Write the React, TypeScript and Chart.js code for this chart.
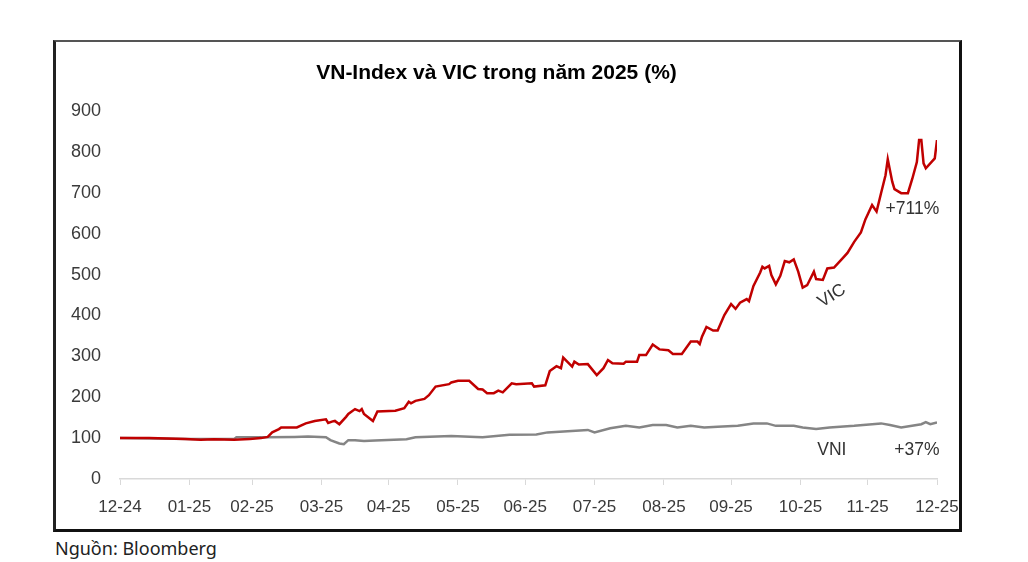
import React, { useEffect, useRef } from "react";
import { Chart, registerables } from "chart.js";

Chart.register(...registerables);

const chartTitle = "VN-Index và VIC trong năm 2025 (%)";
const sourceText = "Nguồn: Bloomberg";

const monthTickDays = [0, 31, 59, 90, 120, 151, 181, 212, 243, 273, 304, 334, 365];
const monthTickLabels = ["12-24", "01-25", "02-25", "03-25", "04-25", "05-25", "06-25", "07-25", "08-25", "09-25", "10-25", "11-25", "12-25"];

const yMin = 0;
const yMax = 900;
const yStep = 100;

const vicDays = [0, 13, 29, 36, 42, 51, 58, 63, 66, 68, 71, 72, 79, 83, 87, 92, 93, 95, 96, 98, 101, 102, 105, 107, 108, 109, 113, 115, 123, 127, 129, 130, 132, 136, 138, 141, 147, 148, 151, 156, 160, 162, 164, 167, 169, 171, 175, 177, 184, 185, 190, 192, 195, 197, 198, 202, 203, 205, 209, 213, 216, 218, 220, 225, 226, 231, 232, 235, 238, 241, 245, 247, 251, 255, 258, 259, 260, 262, 265, 267, 270, 273, 275, 277, 280, 281, 283, 286, 287, 288, 290, 291, 293, 295, 297, 299, 301, 303, 305, 307, 310, 311, 314, 316, 319, 323, 325, 328, 331, 333, 336, 338, 340, 342, 343, 345, 346, 349, 352, 354, 356, 357, 358, 359, 360, 364, 365];
const vicValues = [100, 100, 98, 96, 97, 96, 98, 100, 103, 114, 122, 126, 126, 136, 142, 146, 137, 141, 142, 134, 152, 159, 171, 166, 171, 159, 142, 165, 167, 173, 189, 185, 191, 196, 205, 226, 232, 236, 240, 240, 220, 219, 210, 210, 216, 212, 234, 232, 234, 226, 229, 264, 276, 271, 297, 275, 287, 280, 281, 254, 271, 291, 283, 282, 287, 287, 303, 303, 329, 317, 315, 306, 306, 336, 336, 330, 348, 372, 363, 363, 401, 428, 416, 431, 440, 435, 472, 505, 519, 515, 521, 499, 476, 497, 533, 530, 537, 507, 468, 474, 507, 489, 487, 515, 517, 541, 553, 580, 603, 635, 670, 654, 699, 743, 782, 727, 709, 699, 699, 735, 775, 829, 829, 772, 760, 784, 829];

const vniDays = [0, 15, 32, 51, 52, 65, 78, 84, 92, 94, 98, 100, 102, 105, 109, 114, 128, 132, 148, 159, 162, 174, 186, 191, 200, 209, 212, 219, 226, 232, 238, 244, 249, 255, 261, 267, 276, 283, 289, 293, 301, 305, 311, 317, 328, 340, 344, 349, 358, 360, 362, 365];
const vniValues = [100, 99, 98, 98, 102, 102, 103, 104, 102, 95, 87, 85, 95, 95, 93, 94, 97, 102, 105, 103, 102, 108, 109, 114, 117, 120, 114, 124, 130, 126, 132, 132, 126, 130, 126, 128, 130, 136, 136, 130, 130, 126, 122, 126, 130, 136, 132, 126, 134, 139, 134, 138];

const noteTexts = ["+711%", "VIC", "VNI", "+37%"];
const noteDays = [354, 318, 318, 356];
const noteValues = [660, 448, 71, 71];
const noteAngles = [0, -32, 0, 0];

const FONT = "'Liberation Sans', Arial, Helvetica, sans-serif";

const notesPlugin = {
  id: "notes",
  afterDatasetsDraw(chart: any) {
    const { ctx, scales } = chart;
    ctx.save();
    ctx.font = `17.5px ${FONT}`;
    ctx.fillStyle = "#333333";
    ctx.textAlign = "center";
    ctx.textBaseline = "middle";
    noteTexts.forEach((t, i) => {
      const x = scales.x.getPixelForValue(noteDays[i]);
      const y = scales.y.getPixelForValue(noteValues[i]);
      ctx.save();
      ctx.translate(x, y);
      ctx.rotate((noteAngles[i] * Math.PI) / 180);
      ctx.fillText(t, 0, 0);
      ctx.restore();
    });
    ctx.restore();
  },
};

export default function App() {
  const ref = useRef<HTMLCanvasElement | null>(null);

  useEffect(() => {
    if (!ref.current) return;
    const vic = vicDays.map((d, i) => ({ x: d, y: vicValues[i] }));
    const vni = vniDays.map((d, i) => ({ x: d, y: vniValues[i] }));
    const chart = new Chart(ref.current, {
      type: "line",
      data: {
        datasets: [
          {
            label: "VIC",
            data: vic,
            borderColor: "#c00000",
            borderWidth: 2.5,
            pointRadius: 0,
            tension: 0,
            fill: false,
          },
          {
            label: "VNI",
            data: vni,
            borderColor: "#858585",
            borderWidth: 2.5,
            pointRadius: 0,
            tension: 0,
            fill: false,
          },
        ],
      },
      options: {
        responsive: false,
        maintainAspectRatio: false,
        animation: false,
        devicePixelRatio: 1,
        layout: { padding: { left: 0, right: 22, top: 0, bottom: 0 } },
        plugins: {
          legend: { display: false },
          tooltip: { enabled: false },
          title: {
            display: true,
            text: chartTitle,
            color: "#000000",
            font: { family: FONT, size: 21, weight: "bold", lineHeight: 1.2 },
            padding: { top: 18.4, bottom: 25.4 },
          },
        },
        scales: {
          x: {
            type: "linear",
            min: 0,
            max: 365,
            afterFit: (s: any) => {
              s.height = 50;
              s.paddingLeft = 0;
              s.paddingRight = 0;
            },
            afterBuildTicks: (s: any) => {
              s.ticks = monthTickDays.map((v) => ({ value: v }));
            },
            ticks: {
              autoSkip: false,
              maxRotation: 0,
              minRotation: 0,
              padding: 12,
              color: "#3a3a3a",
              font: { family: FONT, size: 17 },
              callback: (value: any) => {
                const i = monthTickDays.indexOf(Number(value));
                return i >= 0 ? monthTickLabels[i] : "";
              },
            },
            grid: {
              display: true,
              drawOnChartArea: false,
              drawTicks: true,
              tickLength: 6,
              color: "#d9d9d9",
              lineWidth: 1,
            },
            border: { display: true, color: "#d9d9d9", width: 1.5 },
          },
          y: {
            type: "linear",
            min: yMin,
            max: yMax,
            afterFit: (s: any) => {
              s.width = 64;
              s.paddingTop = 0;
              s.paddingBottom = 0;
            },
            ticks: {
              stepSize: yStep,
              padding: 19,
              color: "#3a3a3a",
              font: { family: FONT, size: 18 },
            },
            grid: { display: false, drawTicks: false, tickLength: 0 },
            border: { display: false },
          },
        },
      },
      plugins: [notesPlugin],
    });
    return () => chart.destroy();
  }, []);

  return (
    <div style={{ position: "absolute", left: 0, top: 0, width: 1028, height: 562, background: "#ffffff" }}>
      <div
        style={{
          position: "absolute",
          left: 53,
          top: 40,
          width: 909,
          height: 492,
          boxSizing: "border-box",
          borderTop: "2px solid #555555",
          borderLeft: "3px solid #222222",
          borderRight: "3px solid #111111",
          borderBottom: "3px solid #111111",
        }}
      />
      <canvas
        ref={ref}
        width={903}
        height={487}
        style={{ position: "absolute", left: 56, top: 42, width: 903, height: 487 }}
      />
      <div
        style={{
          position: "absolute",
          left: 55,
          top: 539,
          fontFamily: "'Noto Sans', 'Open Sans', sans-serif",
          fontSize: 18,
          lineHeight: "18px",
          color: "#222222",
          whiteSpace: "nowrap",
        }}
      >
        {sourceText}
      </div>
    </div>
  );
}
